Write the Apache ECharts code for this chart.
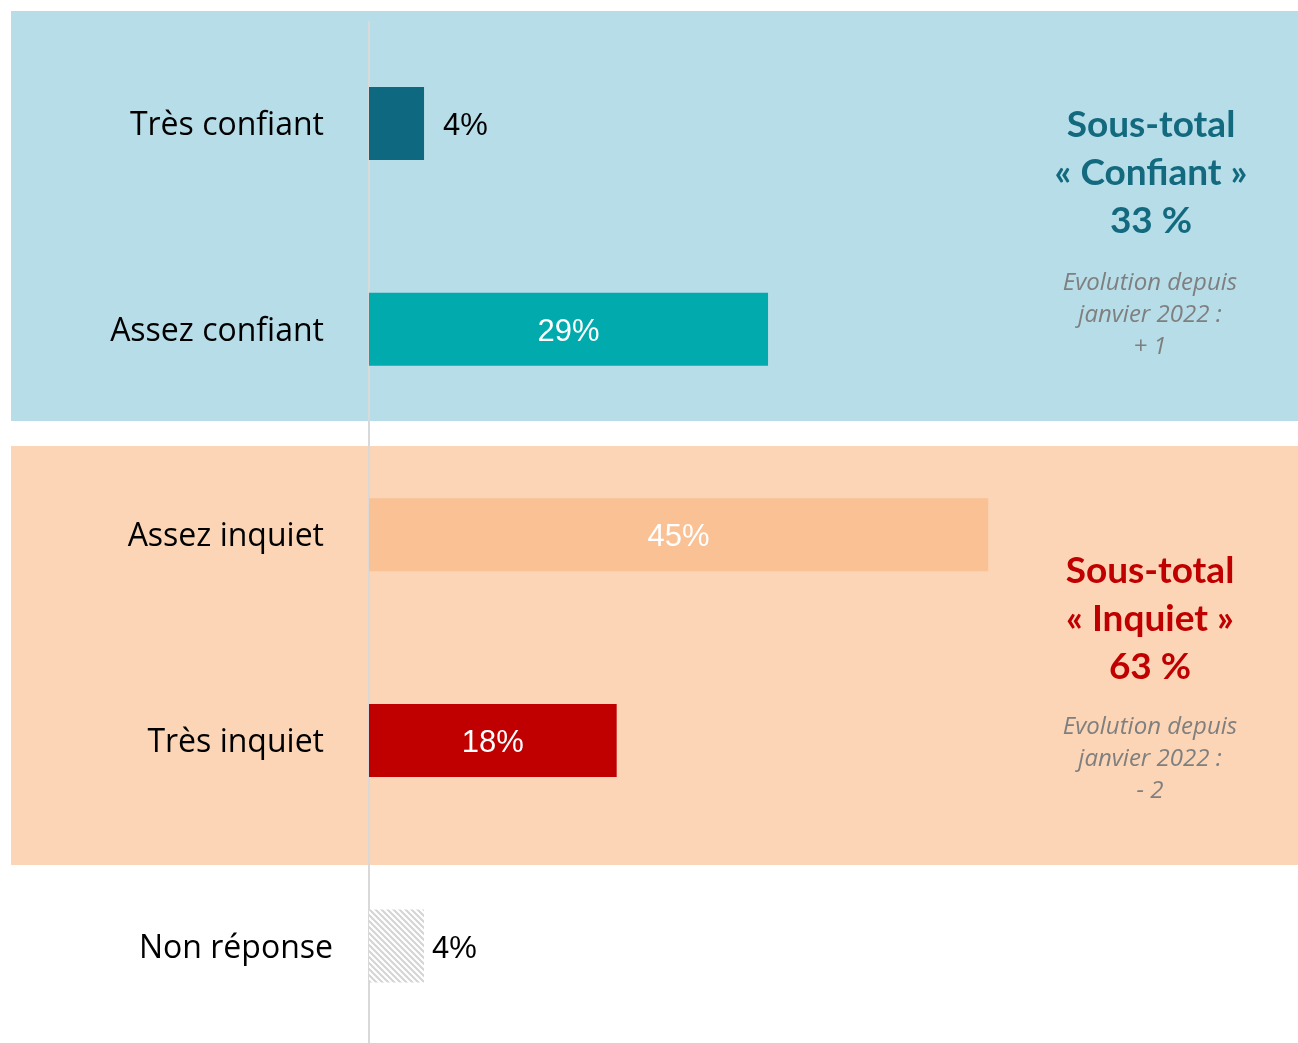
<!DOCTYPE html>
<html>
<head>
<meta charset="utf-8">
<script src="https://cdn.jsdelivr.net/npm/echarts@6/dist/echarts.min.js"></script>
<style>
  html, body { margin: 0; padding: 0; background: #fff; }
  #chart { width: 1298px; height: 1043px; }
</style>
</head>
<body>
<div id="chart"></div>
<script>
// données
var categories = ['Très confiant', 'Assez confiant', 'Assez inquiet', 'Très inquiet', 'Non réponse'];
var values = [4, 29, 45, 18, 4];
var barColors = ['#0E6880', '#00AAAD', '#F9C194', '#C00000', null];
var confiantText = ['Sous-total', '« Confiant »', '33 %'];
var confiantEvol = ['Evolution depuis', 'janvier 2022 :', '+ 1'];
var inquietText = ['Sous-total', '« Inquiet »', '63 %'];
var inquietEvol = ['Evolution depuis', 'janvier 2022 :', '- 2'];

// hachures pour "Non réponse"
function hatch() {
  var c = document.createElement('canvas');
  c.width = 6; c.height = 6;
  var ctx = c.getContext('2d');
  ctx.fillStyle = '#ffffff';
  ctx.fillRect(0, 0, 6, 6);
  ctx.strokeStyle = '#d4d4d4';
  ctx.lineWidth = 2;
  ctx.beginPath();
  ctx.moveTo(-1, -1); ctx.lineTo(7, 7);
  ctx.moveTo(-1, 5); ctx.lineTo(1, 7);
  ctx.moveTo(5, -1); ctx.lineTo(7, 1);
  ctx.stroke();
  return c;
}

var myChart = echarts.init(document.getElementById('chart'));

var barData = values.map(function (v, i) {
  var item = { value: v, itemStyle: {} };
  if (barColors[i]) {
    item.itemStyle.color = barColors[i];
  } else {
    item.itemStyle.color = { image: hatch(), repeat: 'repeat' };
  }
  if (i === 0 || i === 4) {
    item.label = { position: 'right', color: '#000', distance: i === 0 ? 19 : 8 };
  }
  return item;
});

var option = {
  animation: false,
  // catégories aux extrémités (boundaryGap false), pas de 205.6 px
  grid: { left: 369, top: 123.5, width: 60 * 13.76, height: 822.5 },
  graphic: [
    { type: 'rect', z: -10, shape: { x: 11, y: 11, width: 1287, height: 410 }, style: { fill: '#B7DDE8' } },
    { type: 'rect', z: -10, shape: { x: 11, y: 446, width: 1287, height: 419 }, style: { fill: '#FBD5B5' } },
    // trait vertical de l'axe
    { type: 'line', z: -5, shape: { x1: 369, y1: 21, x2: 369, y2: 1043 }, style: { stroke: '#D9D9D9', lineWidth: 2 } },
    { type: 'text', z: 10, style: { text: confiantText.join('\n'), x: 1151, y: 101, textAlign: 'center',
        font: 'bold 37px Lato', lineHeight: 48, fill: '#136A7F' } },
    { type: 'text', z: 10, style: { text: confiantEvol.join('\n'), x: 1150, y: 267, textAlign: 'center',
        font: 'italic 24px "Open Sans"', lineHeight: 32, fill: '#7F7F7F' } },
    { type: 'text', z: 10, style: { text: inquietText.join('\n'), x: 1150, y: 547, textAlign: 'center',
        font: 'bold 37px Lato', lineHeight: 48, fill: '#C00000' } },
    { type: 'text', z: 10, style: { text: inquietEvol.join('\n'), x: 1150, y: 711, textAlign: 'center',
        font: 'italic 24px "Open Sans"', lineHeight: 32, fill: '#7F7F7F' } }
  ],
  xAxis: { type: 'value', min: 0, max: 60, show: false },
  yAxis: {
    type: 'category',
    inverse: true,
    boundaryGap: false,
    data: categories,
    axisLine: { show: false },
    axisTick: { show: false },
    splitLine: { show: false },
    axisLabel: {
      margin: 36,
      formatter: function (v) {
        return v === 'Non réponse' ? '{b|' + v + '}' : '{a|' + v + '}';
      },
      rich: {
        a: { fontFamily: 'Open Sans', fontSize: 32, color: '#000', padding: [5, 9, 0, 0] },
        b: { fontFamily: 'Open Sans', fontSize: 32, color: '#000', padding: [5, 0, 0, 0] }
      }
    }
  },
  series: [{
    type: 'bar',
    barWidth: 73,
    data: barData,
    label: {
      show: true,
      position: 'inside',
      formatter: '{c}%',
      fontFamily: 'Liberation Sans',
      fontSize: 31,
      offset: [0, 3],
      color: '#fff'
    }
  }]
};
myChart.setOption(option);
</script>
</body>
</html>
